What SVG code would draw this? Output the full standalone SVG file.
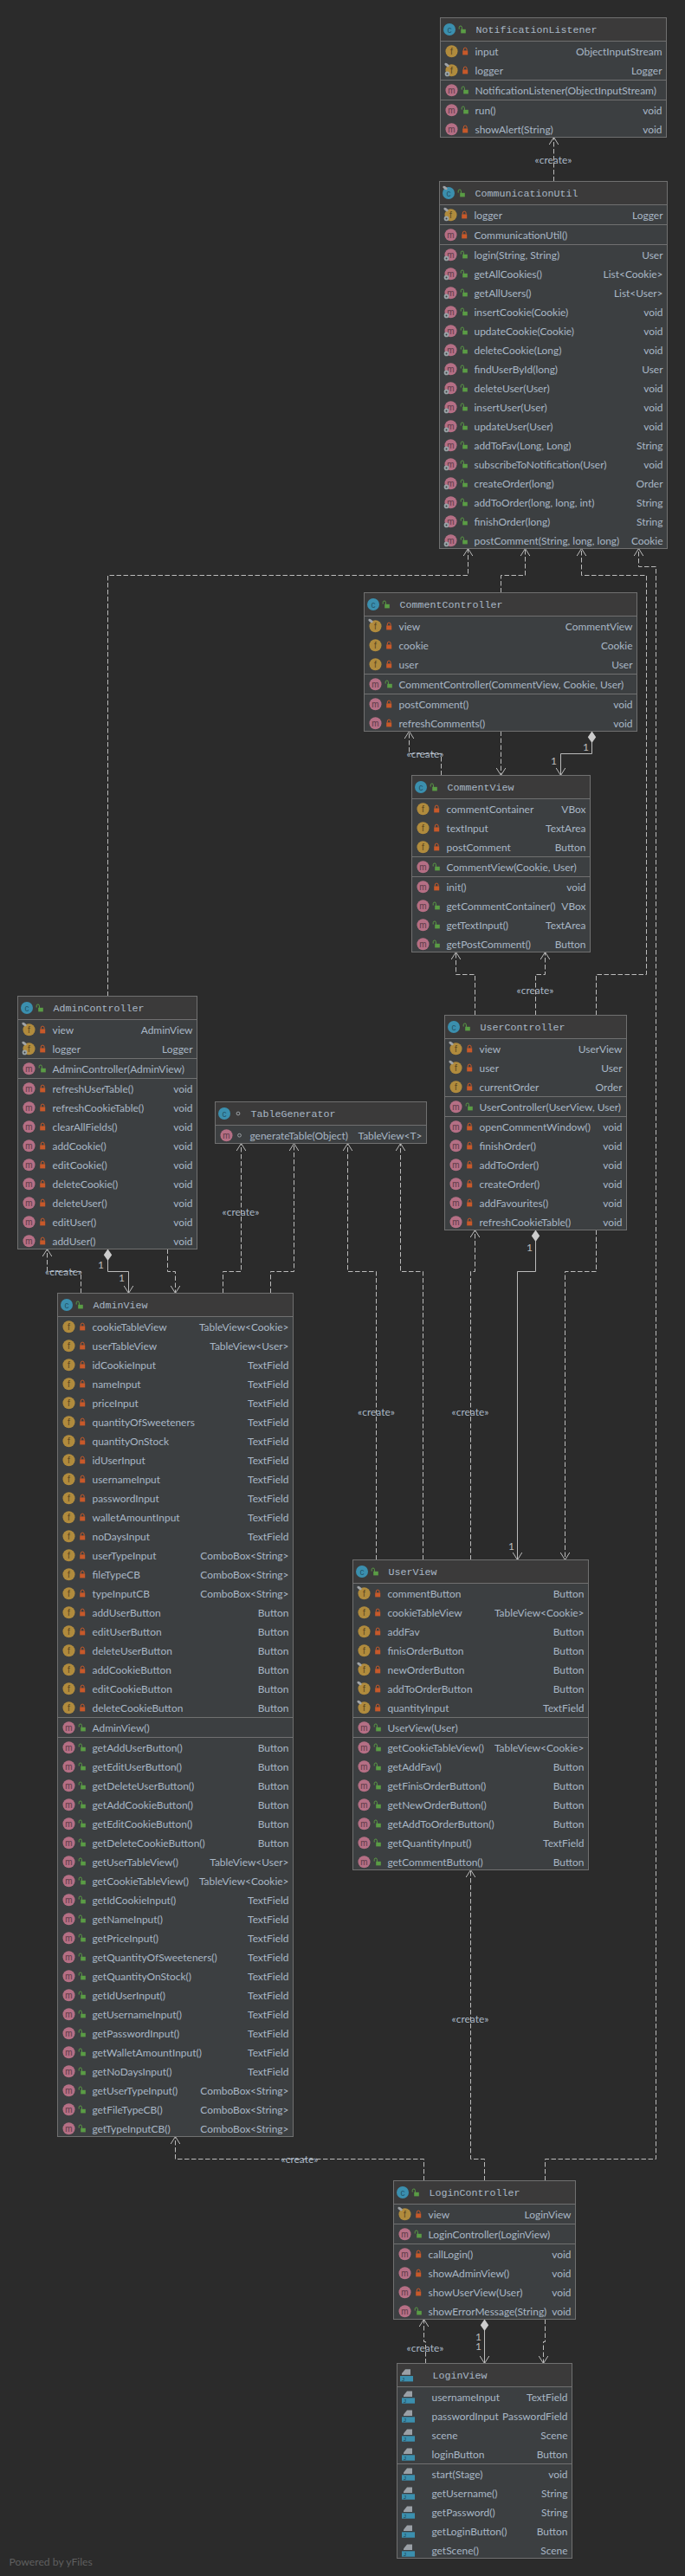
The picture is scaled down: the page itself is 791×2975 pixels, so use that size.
<svg xmlns="http://www.w3.org/2000/svg" width="791" height="2975" viewBox="0 0 791 2975">
<style>
text{font-family:"Lato","Noto Sans","Liberation Sans",sans-serif;font-size:11.95px;fill:#a9b7c6}
.t{text-anchor:end}
.ti{font-family:"Liberation Mono",monospace;font-size:11.67px}
.ic{font-family:"Liberation Sans",sans-serif;font-size:10px;text-anchor:middle}
.lb{text-anchor:middle}
.mult{font-size:12px;fill:#bbbbbb}
.box{fill:#3c3f41;stroke:#707070}
.hd{fill:#3b3a3a}
.sep{fill:none;stroke:#707070}
.d,.s{fill:none;stroke:#bbbbbb}
.d{stroke-dasharray:5.5 2.5}
</style>
<defs>
<marker id="open" markerUnits="userSpaceOnUse" markerWidth="14" markerHeight="14" refX="10" refY="7" orient="auto"><path d="M1.5,1.7 L10,7 L1.5,12.3" fill="none" stroke="#bbbbbb"/></marker>
<marker id="dia" markerUnits="userSpaceOnUse" markerWidth="15" markerHeight="11" refX="0" refY="5.5" orient="auto"><path d="M0,5.5 L6.7,0.8 L13.4,5.5 L6.7,10.2 Z" fill="#cccccc"/></marker>
<g id="c"><circle cx="10.5" cy="13.5" r="7" fill="#3b8fae"/><text x="10.5" y="17" class="ic" style="fill:#235468">c</text></g>
<g id="f"><circle cx="13" cy="-4.8" r="7" fill="#b08b3d"/><text x="13" y="-1.2" class="ic" style="fill:#5b4720">f</text></g>
<g id="m"><circle cx="13" cy="-4.8" r="7" fill="#b56f85"/><text x="13" y="-1.2" class="ic" style="fill:#5d3b47">m</text></g>
<g id="pr"><rect x="25.7" y="-5.6" width="6" height="5" fill="#c7592a"/><path d="M26.8,-5.5 V-7 a1.9,1.9 0 0 1 3.8,0 V-5.5" fill="none" stroke="#c7592a"/></g>
<g id="pu"><rect x="26.7" y="-5.2" width="5.6" height="4.6" fill="#5a9c45"/><path d="M24.7,-5.5 V-7.4 a1.6,1.6 0 0 1 3.2,0 V-5" fill="none" stroke="#5a9c45"/></g>
<circle id="pk" cx="28" cy="-4.8" r="1.9" fill="none" stroke="#9a9fa3"/>
<g id="st"><circle cx="8" cy="-0.6" r="2.8" fill="#9aa4a8"/><circle cx="8" cy="-0.6" r="1" fill="#3c3f41"/></g>
<ellipse id="fi" cx="7.5" cy="-11" rx="3" ry="1.6" transform="rotate(35 7.5 -11)" fill="#a0a4a8"/>
<g id="j"><path d="M7.5,-5 V-6.6 L11.5,-11.5 H17.5 V-5 Z" fill="#9aa0a6"/><rect x="5.5" y="-3.7" width="15" height="6.4" fill="#3b8fae"/><text x="9" y="1.8" class="ic" style="font-size:6px;fill:#1d3f4d">J</text></g>
</defs>
<rect width="791" height="2975" fill="#2b2b2b"/>
<g id="connectors">
<path class="d" marker-end="url(#open)" d="M639.5,209.5 V158.5"/>
<path class="d" marker-end="url(#open)" d="M124.5,1150.5 V664.5 H540.5 V633.5"/>
<path class="d" marker-end="url(#open)" d="M578.5,684.5 V664.5 H606.5 V633.5"/>
<path class="d" marker-end="url(#open)" d="M688.5,1172.5 V1125.5 H746.5 V664.5 H671.5 V633.5"/>
<path class="d" marker-end="url(#open)" d="M629.5,2518.5 V2493.5 H757.5 V654.5 H737.5 V633.5"/>
<path class="d" marker-end="url(#open)" d="M509.5,895.5 V870.5 H472.5 V844.5"/>
<path class="d" marker-end="url(#open)" d="M578.5,844.5 V895.5"/>
<path class="s" marker-start="url(#dia)" marker-end="url(#open)" d="M683.5,844.5 V870.5 H647.5 V895.5"/>
<path class="d" marker-end="url(#open)" d="M548.5,1172.5 V1125.5 H526.5 V1099.5"/>
<path class="d" marker-end="url(#open)" d="M618.5,1172.5 V1125.5 H629.5 V1099.5"/>
<path class="d" marker-end="url(#open)" d="M93.5,1493.5 V1468.5 H54.5 V1442.5"/>
<path class="s" marker-start="url(#dia)" marker-end="url(#open)" d="M124.5,1442.5 V1468.5 H148.5 V1493.5"/>
<path class="d" marker-end="url(#open)" d="M193.5,1442.5 V1468.5 H202.5 V1493.5"/>
<path class="d" marker-end="url(#open)" d="M257.5,1493.5 V1468.5 H278.5 V1320.5"/>
<path class="d" marker-end="url(#open)" d="M312.5,1493.5 V1468.5 H339.5 V1320.5"/>
<path class="d" marker-end="url(#open)" d="M434.5,1801.5 V1468.5 H401.5 V1320.5"/>
<path class="d" marker-end="url(#open)" d="M488.5,1801.5 V1468.5 H462.5 V1320.5"/>
<path class="d" marker-end="url(#open)" d="M543.5,1801.5 V1468.5 H548.5 V1420.5"/>
<path class="s" marker-start="url(#dia)" marker-end="url(#open)" d="M618.5,1420.5 V1468.5 H597.5 V1801.5"/>
<path class="d" marker-end="url(#open)" d="M688.5,1420.5 V1468.5 H652.5 V1801.5"/>
<path class="d" marker-end="url(#open)" d="M489.5,2518.5 V2493.5 H202.5 V2467.5"/>
<path class="d" marker-end="url(#open)" d="M559.5,2518.5 V2493.5 H543.5 V2159.5"/>
<path class="d" marker-end="url(#open)" d="M491.5,2729.5 V2704.5 H489.5 V2678.5"/>
<path class="s" marker-start="url(#dia)" marker-end="url(#open)" d="M559.5,2678.5 V2729.5"/>
<path class="d" marker-end="url(#open)" d="M629.5,2678.5 V2704.5 H627.5 V2729.5"/>
<text class="lb" x="639" y="189">«create»</text>
<text class="lb" x="491" y="875">«create»</text>
<text class="lb" x="618" y="1148">«create»</text>
<text class="lb" x="278" y="1404">«create»</text>
<text class="lb" x="73.5" y="1473">«create»</text>
<text class="lb" x="434.5" y="1635">«create»</text>
<text class="lb" x="543" y="1635">«create»</text>
<text class="lb" x="346" y="2498">«create»</text>
<text class="lb" x="543" y="2336">«create»</text>
<text class="lb" x="491" y="2716">«create»</text>
<text class="mult" x="673" y="867">1</text>
<text class="mult" x="636" y="883">1</text>
<text class="mult" x="113" y="1465">1</text>
<text class="mult" x="137" y="1480">1</text>
<text class="mult" x="608" y="1445">1</text>
<text class="mult" x="587" y="1790">1</text>
<text class="mult" x="549" y="2703">1</text>
<text class="mult" x="549" y="2714">1</text>
</g>
<g id="NotificationListener" transform="translate(508.5,20.5)">
<rect class="box" width="261" height="138"/><rect class="hd" x=".5" y=".5" width="260" height="26.5"/><path class="sep" d="M0,27H261M0,72H261M0,95H261"/>
<use href="#c"/><use href="#pu" x="-3" y="18.5"/><text class="ti" x="41" y="17.5">NotificationListener</text>
<g transform="translate(0,43.5)">
<use href="#f"/><use href="#pr"/><text x="40">input</text><text class="t" x="256">ObjectInputStream</text>
<use href="#f" y="22"/><use href="#fi" y="22"/><use href="#st" y="22"/><use href="#pr" y="22"/><text x="40" y="22">logger</text><text class="t" x="256" y="22">Logger</text>
</g>
<g transform="translate(0,88.5)"><use href="#m"/><use href="#pu"/><text x="40">NotificationListener(ObjectInputStream)</text></g>
<g transform="translate(0,111.5)">
<use href="#m"/><use href="#pu"/><text x="40">run()</text><text class="t" x="256">void</text>
<use href="#m" y="22"/><use href="#pr" y="22"/><text x="40" y="22">showAlert(String)</text><text class="t" x="256" y="22">void</text>
</g>
</g>
<g id="CommunicationUtil" transform="translate(507.5,209.5)">
<rect class="box" width="263" height="424"/><rect class="hd" x=".5" y=".5" width="262" height="26.5"/><path class="sep" d="M0,27H263M0,50H263M0,73H263"/>
<use href="#c"/><use href="#fi" x="-1" y="18.5"/><use href="#pu" x="-3" y="18.5"/><text class="ti" x="41" y="17.5">CommunicationUtil</text>
<g transform="translate(0,43.5)"><use href="#f"/><use href="#fi"/><use href="#st"/><use href="#pr"/><text x="40">logger</text><text class="t" x="258">Logger</text></g>
<g transform="translate(0,66.5)"><use href="#m"/><use href="#pr"/><text x="40">CommunicationUtil()</text></g>
<g transform="translate(0,89.5)">
<use href="#m"/><use href="#st"/><use href="#pu"/><text x="40">login(String, String)</text><text class="t" x="258">User</text>
<use href="#m" y="22"/><use href="#st" y="22"/><use href="#pu" y="22"/><text x="40" y="22">getAllCookies()</text><text class="t" x="258" y="22">List&lt;Cookie&gt;</text>
<use href="#m" y="44"/><use href="#st" y="44"/><use href="#pu" y="44"/><text x="40" y="44">getAllUsers()</text><text class="t" x="258" y="44">List&lt;User&gt;</text>
<use href="#m" y="66"/><use href="#st" y="66"/><use href="#pu" y="66"/><text x="40" y="66">insertCookie(Cookie)</text><text class="t" x="258" y="66">void</text>
<use href="#m" y="88"/><use href="#st" y="88"/><use href="#pu" y="88"/><text x="40" y="88">updateCookie(Cookie)</text><text class="t" x="258" y="88">void</text>
<use href="#m" y="110"/><use href="#st" y="110"/><use href="#pu" y="110"/><text x="40" y="110">deleteCookie(Long)</text><text class="t" x="258" y="110">void</text>
<use href="#m" y="132"/><use href="#st" y="132"/><use href="#pu" y="132"/><text x="40" y="132">findUserById(long)</text><text class="t" x="258" y="132">User</text>
<use href="#m" y="154"/><use href="#st" y="154"/><use href="#pu" y="154"/><text x="40" y="154">deleteUser(User)</text><text class="t" x="258" y="154">void</text>
<use href="#m" y="176"/><use href="#st" y="176"/><use href="#pu" y="176"/><text x="40" y="176">insertUser(User)</text><text class="t" x="258" y="176">void</text>
<use href="#m" y="198"/><use href="#st" y="198"/><use href="#pu" y="198"/><text x="40" y="198">updateUser(User)</text><text class="t" x="258" y="198">void</text>
<use href="#m" y="220"/><use href="#st" y="220"/><use href="#pu" y="220"/><text x="40" y="220">addToFav(Long, Long)</text><text class="t" x="258" y="220">String</text>
<use href="#m" y="242"/><use href="#st" y="242"/><use href="#pu" y="242"/><text x="40" y="242">subscribeToNotification(User)</text><text class="t" x="258" y="242">void</text>
<use href="#m" y="264"/><use href="#st" y="264"/><use href="#pu" y="264"/><text x="40" y="264">createOrder(long)</text><text class="t" x="258" y="264">Order</text>
<use href="#m" y="286"/><use href="#st" y="286"/><use href="#pu" y="286"/><text x="40" y="286">addToOrder(long, long, int)</text><text class="t" x="258" y="286">String</text>
<use href="#m" y="308"/><use href="#st" y="308"/><use href="#pu" y="308"/><text x="40" y="308">finishOrder(long)</text><text class="t" x="258" y="308">String</text>
<use href="#m" y="330"/><use href="#st" y="330"/><use href="#pu" y="330"/><text x="40" y="330">postComment(String, long, long)</text><text class="t" x="258" y="330">Cookie</text>
</g>
</g>
<g id="CommentController" transform="translate(420.5,684.5)">
<rect class="box" width="315" height="160"/><rect class="hd" x=".5" y=".5" width="314" height="26.5"/><path class="sep" d="M0,27H315M0,94H315M0,117H315"/>
<use href="#c"/><use href="#pu" x="-3" y="18.5"/><text class="ti" x="41" y="17.5">CommentController</text>
<g transform="translate(0,43.5)">
<use href="#f"/><use href="#fi"/><use href="#pr"/><text x="40">view</text><text class="t" x="310">CommentView</text>
<use href="#f" y="22"/><use href="#pr" y="22"/><text x="40" y="22">cookie</text><text class="t" x="310" y="22">Cookie</text>
<use href="#f" y="44"/><use href="#pr" y="44"/><text x="40" y="44">user</text><text class="t" x="310" y="44">User</text>
</g>
<g transform="translate(0,110.5)"><use href="#m"/><use href="#pu"/><text x="40">CommentController(CommentView, Cookie, User)</text></g>
<g transform="translate(0,133.5)">
<use href="#m"/><use href="#pr"/><text x="40">postComment()</text><text class="t" x="310">void</text>
<use href="#m" y="22"/><use href="#pr" y="22"/><text x="40" y="22">refreshComments()</text><text class="t" x="310" y="22">void</text>
</g>
</g>
<g id="CommentView" transform="translate(475.5,895.5)">
<rect class="box" width="206" height="204"/><rect class="hd" x=".5" y=".5" width="205" height="26.5"/><path class="sep" d="M0,27H206M0,94H206M0,117H206"/>
<use href="#c"/><use href="#pu" x="-3" y="18.5"/><text class="ti" x="41" y="17.5">CommentView</text>
<g transform="translate(0,43.5)">
<use href="#f"/><use href="#pr"/><text x="40">commentContainer</text><text class="t" x="201">VBox</text>
<use href="#f" y="22"/><use href="#pr" y="22"/><text x="40" y="22">textInput</text><text class="t" x="201" y="22">TextArea</text>
<use href="#f" y="44"/><use href="#pr" y="44"/><text x="40" y="44">postComment</text><text class="t" x="201" y="44">Button</text>
</g>
<g transform="translate(0,110.5)"><use href="#m"/><use href="#pu"/><text x="40">CommentView(Cookie, User)</text></g>
<g transform="translate(0,133.5)">
<use href="#m"/><use href="#pr"/><text x="40">init()</text><text class="t" x="201">void</text>
<use href="#m" y="22"/><use href="#pu" y="22"/><text x="40" y="22">getCommentContainer()</text><text class="t" x="201" y="22">VBox</text>
<use href="#m" y="44"/><use href="#pu" y="44"/><text x="40" y="44">getTextInput()</text><text class="t" x="201" y="44">TextArea</text>
<use href="#m" y="66"/><use href="#pu" y="66"/><text x="40" y="66">getPostComment()</text><text class="t" x="201" y="66">Button</text>
</g>
</g>
<g id="AdminController" transform="translate(20.5,1150.5)">
<rect class="box" width="207" height="292"/><rect class="hd" x=".5" y=".5" width="206" height="26.5"/><path class="sep" d="M0,27H207M0,72H207M0,95H207"/>
<use href="#c"/><use href="#pu" x="-3" y="18.5"/><text class="ti" x="41" y="17.5">AdminController</text>
<g transform="translate(0,43.5)">
<use href="#f"/><use href="#fi"/><use href="#pr"/><text x="40">view</text><text class="t" x="202">AdminView</text>
<use href="#f" y="22"/><use href="#fi" y="22"/><use href="#st" y="22"/><use href="#pr" y="22"/><text x="40" y="22">logger</text><text class="t" x="202" y="22">Logger</text>
</g>
<g transform="translate(0,88.5)"><use href="#m"/><use href="#pu"/><text x="40">AdminController(AdminView)</text></g>
<g transform="translate(0,111.5)">
<use href="#m"/><use href="#pr"/><text x="40">refreshUserTable()</text><text class="t" x="202">void</text>
<use href="#m" y="22"/><use href="#pr" y="22"/><text x="40" y="22">refreshCookieTable()</text><text class="t" x="202" y="22">void</text>
<use href="#m" y="44"/><use href="#pr" y="44"/><text x="40" y="44">clearAllFields()</text><text class="t" x="202" y="44">void</text>
<use href="#m" y="66"/><use href="#pr" y="66"/><text x="40" y="66">addCookie()</text><text class="t" x="202" y="66">void</text>
<use href="#m" y="88"/><use href="#pr" y="88"/><text x="40" y="88">editCookie()</text><text class="t" x="202" y="88">void</text>
<use href="#m" y="110"/><use href="#pr" y="110"/><text x="40" y="110">deleteCookie()</text><text class="t" x="202" y="110">void</text>
<use href="#m" y="132"/><use href="#pr" y="132"/><text x="40" y="132">deleteUser()</text><text class="t" x="202" y="132">void</text>
<use href="#m" y="154"/><use href="#pr" y="154"/><text x="40" y="154">editUser()</text><text class="t" x="202" y="154">void</text>
<use href="#m" y="176"/><use href="#pr" y="176"/><text x="40" y="176">addUser()</text><text class="t" x="202" y="176">void</text>
</g>
</g>
<g id="TableGenerator" transform="translate(248.5,1272.5)">
<rect class="box" width="244" height="48"/><rect class="hd" x=".5" y=".5" width="243" height="26.5"/><path class="sep" d="M0,27H244"/>
<use href="#c"/><use href="#pk" x="-1.5" y="18.3"/><text class="ti" x="41" y="17.5">TableGenerator</text>
<g transform="translate(0,43.5)"><use href="#m"/><use href="#pk"/><text x="40">generateTable(Object)</text><text class="t" x="239">TableView&lt;T&gt;</text></g>
</g>
<g id="UserController" transform="translate(513.5,1172.5)">
<rect class="box" width="210" height="248"/><rect class="hd" x=".5" y=".5" width="209" height="26.5"/><path class="sep" d="M0,27H210M0,94H210M0,117H210"/>
<use href="#c"/><use href="#pu" x="-3" y="18.5"/><text class="ti" x="41" y="17.5">UserController</text>
<g transform="translate(0,43.5)">
<use href="#f"/><use href="#fi"/><use href="#pr"/><text x="40">view</text><text class="t" x="205">UserView</text>
<use href="#f" y="22"/><use href="#fi" y="22"/><use href="#pr" y="22"/><text x="40" y="22">user</text><text class="t" x="205" y="22">User</text>
<use href="#f" y="44"/><use href="#pr" y="44"/><text x="40" y="44">currentOrder</text><text class="t" x="205" y="44">Order</text>
</g>
<g transform="translate(0,110.5)"><use href="#m"/><use href="#pu"/><text x="40">UserController(UserView, User)</text></g>
<g transform="translate(0,133.5)">
<use href="#m"/><use href="#pr"/><text x="40">openCommentWindow()</text><text class="t" x="205">void</text>
<use href="#m" y="22"/><use href="#pr" y="22"/><text x="40" y="22">finishOrder()</text><text class="t" x="205" y="22">void</text>
<use href="#m" y="44"/><use href="#pr" y="44"/><text x="40" y="44">addToOrder()</text><text class="t" x="205" y="44">void</text>
<use href="#m" y="66"/><use href="#pr" y="66"/><text x="40" y="66">createOrder()</text><text class="t" x="205" y="66">void</text>
<use href="#m" y="88"/><use href="#pr" y="88"/><text x="40" y="88">addFavourites()</text><text class="t" x="205" y="88">void</text>
<use href="#m" y="110"/><use href="#pr" y="110"/><text x="40" y="110">refreshCookieTable()</text><text class="t" x="205" y="110">void</text>
</g>
</g>
<g id="AdminView" transform="translate(66.5,1493.5)">
<rect class="box" width="272" height="974"/><rect class="hd" x=".5" y=".5" width="271" height="26.5"/><path class="sep" d="M0,27H272M0,490H272M0,513H272"/>
<use href="#c"/><use href="#pu" x="-3" y="18.5"/><text class="ti" x="41" y="17.5">AdminView</text>
<g transform="translate(0,43.5)">
<use href="#f"/><use href="#pr"/><text x="40">cookieTableView</text><text class="t" x="267">TableView&lt;Cookie&gt;</text>
<use href="#f" y="22"/><use href="#pr" y="22"/><text x="40" y="22">userTableView</text><text class="t" x="267" y="22">TableView&lt;User&gt;</text>
<use href="#f" y="44"/><use href="#pr" y="44"/><text x="40" y="44">idCookieInput</text><text class="t" x="267" y="44">TextField</text>
<use href="#f" y="66"/><use href="#pr" y="66"/><text x="40" y="66">nameInput</text><text class="t" x="267" y="66">TextField</text>
<use href="#f" y="88"/><use href="#pr" y="88"/><text x="40" y="88">priceInput</text><text class="t" x="267" y="88">TextField</text>
<use href="#f" y="110"/><use href="#pr" y="110"/><text x="40" y="110">quantityOfSweeteners</text><text class="t" x="267" y="110">TextField</text>
<use href="#f" y="132"/><use href="#pr" y="132"/><text x="40" y="132">quantityOnStock</text><text class="t" x="267" y="132">TextField</text>
<use href="#f" y="154"/><use href="#pr" y="154"/><text x="40" y="154">idUserInput</text><text class="t" x="267" y="154">TextField</text>
<use href="#f" y="176"/><use href="#pr" y="176"/><text x="40" y="176">usernameInput</text><text class="t" x="267" y="176">TextField</text>
<use href="#f" y="198"/><use href="#pr" y="198"/><text x="40" y="198">passwordInput</text><text class="t" x="267" y="198">TextField</text>
<use href="#f" y="220"/><use href="#pr" y="220"/><text x="40" y="220">walletAmountInput</text><text class="t" x="267" y="220">TextField</text>
<use href="#f" y="242"/><use href="#pr" y="242"/><text x="40" y="242">noDaysInput</text><text class="t" x="267" y="242">TextField</text>
<use href="#f" y="264"/><use href="#pr" y="264"/><text x="40" y="264">userTypeInput</text><text class="t" x="267" y="264">ComboBox&lt;String&gt;</text>
<use href="#f" y="286"/><use href="#pr" y="286"/><text x="40" y="286">fileTypeCB</text><text class="t" x="267" y="286">ComboBox&lt;String&gt;</text>
<use href="#f" y="308"/><use href="#pr" y="308"/><text x="40" y="308">typeInputCB</text><text class="t" x="267" y="308">ComboBox&lt;String&gt;</text>
<use href="#f" y="330"/><use href="#pr" y="330"/><text x="40" y="330">addUserButton</text><text class="t" x="267" y="330">Button</text>
<use href="#f" y="352"/><use href="#pr" y="352"/><text x="40" y="352">editUserButton</text><text class="t" x="267" y="352">Button</text>
<use href="#f" y="374"/><use href="#pr" y="374"/><text x="40" y="374">deleteUserButton</text><text class="t" x="267" y="374">Button</text>
<use href="#f" y="396"/><use href="#pr" y="396"/><text x="40" y="396">addCookieButton</text><text class="t" x="267" y="396">Button</text>
<use href="#f" y="418"/><use href="#pr" y="418"/><text x="40" y="418">editCookieButton</text><text class="t" x="267" y="418">Button</text>
<use href="#f" y="440"/><use href="#pr" y="440"/><text x="40" y="440">deleteCookieButton</text><text class="t" x="267" y="440">Button</text>
</g>
<g transform="translate(0,506.5)"><use href="#m"/><use href="#pu"/><text x="40">AdminView()</text></g>
<g transform="translate(0,529.5)">
<use href="#m"/><use href="#pu"/><text x="40">getAddUserButton()</text><text class="t" x="267">Button</text>
<use href="#m" y="22"/><use href="#pu" y="22"/><text x="40" y="22">getEditUserButton()</text><text class="t" x="267" y="22">Button</text>
<use href="#m" y="44"/><use href="#pu" y="44"/><text x="40" y="44">getDeleteUserButton()</text><text class="t" x="267" y="44">Button</text>
<use href="#m" y="66"/><use href="#pu" y="66"/><text x="40" y="66">getAddCookieButton()</text><text class="t" x="267" y="66">Button</text>
<use href="#m" y="88"/><use href="#pu" y="88"/><text x="40" y="88">getEditCookieButton()</text><text class="t" x="267" y="88">Button</text>
<use href="#m" y="110"/><use href="#pu" y="110"/><text x="40" y="110">getDeleteCookieButton()</text><text class="t" x="267" y="110">Button</text>
<use href="#m" y="132"/><use href="#pu" y="132"/><text x="40" y="132">getUserTableView()</text><text class="t" x="267" y="132">TableView&lt;User&gt;</text>
<use href="#m" y="154"/><use href="#pu" y="154"/><text x="40" y="154">getCookieTableView()</text><text class="t" x="267" y="154">TableView&lt;Cookie&gt;</text>
<use href="#m" y="176"/><use href="#pu" y="176"/><text x="40" y="176">getIdCookieInput()</text><text class="t" x="267" y="176">TextField</text>
<use href="#m" y="198"/><use href="#pu" y="198"/><text x="40" y="198">getNameInput()</text><text class="t" x="267" y="198">TextField</text>
<use href="#m" y="220"/><use href="#pu" y="220"/><text x="40" y="220">getPriceInput()</text><text class="t" x="267" y="220">TextField</text>
<use href="#m" y="242"/><use href="#pu" y="242"/><text x="40" y="242">getQuantityOfSweeteners()</text><text class="t" x="267" y="242">TextField</text>
<use href="#m" y="264"/><use href="#pu" y="264"/><text x="40" y="264">getQuantityOnStock()</text><text class="t" x="267" y="264">TextField</text>
<use href="#m" y="286"/><use href="#pu" y="286"/><text x="40" y="286">getIdUserInput()</text><text class="t" x="267" y="286">TextField</text>
<use href="#m" y="308"/><use href="#pu" y="308"/><text x="40" y="308">getUsernameInput()</text><text class="t" x="267" y="308">TextField</text>
<use href="#m" y="330"/><use href="#pu" y="330"/><text x="40" y="330">getPasswordInput()</text><text class="t" x="267" y="330">TextField</text>
<use href="#m" y="352"/><use href="#pu" y="352"/><text x="40" y="352">getWalletAmountInput()</text><text class="t" x="267" y="352">TextField</text>
<use href="#m" y="374"/><use href="#pu" y="374"/><text x="40" y="374">getNoDaysInput()</text><text class="t" x="267" y="374">TextField</text>
<use href="#m" y="396"/><use href="#pu" y="396"/><text x="40" y="396">getUserTypeInput()</text><text class="t" x="267" y="396">ComboBox&lt;String&gt;</text>
<use href="#m" y="418"/><use href="#pu" y="418"/><text x="40" y="418">getFileTypeCB()</text><text class="t" x="267" y="418">ComboBox&lt;String&gt;</text>
<use href="#m" y="440"/><use href="#pu" y="440"/><text x="40" y="440">getTypeInputCB()</text><text class="t" x="267" y="440">ComboBox&lt;String&gt;</text>
</g>
</g>
<g id="UserView" transform="translate(407.5,1801.5)">
<rect class="box" width="272" height="358"/><rect class="hd" x=".5" y=".5" width="271" height="26.5"/><path class="sep" d="M0,27H272M0,182H272M0,205H272"/>
<use href="#c"/><use href="#pu" x="-3" y="18.5"/><text class="ti" x="41" y="17.5">UserView</text>
<g transform="translate(0,43.5)">
<use href="#f"/><use href="#fi"/><use href="#pr"/><text x="40">commentButton</text><text class="t" x="267">Button</text>
<use href="#f" y="22"/><use href="#pr" y="22"/><text x="40" y="22">cookieTableView</text><text class="t" x="267" y="22">TableView&lt;Cookie&gt;</text>
<use href="#f" y="44"/><use href="#pr" y="44"/><text x="40" y="44">addFav</text><text class="t" x="267" y="44">Button</text>
<use href="#f" y="66"/><use href="#pr" y="66"/><text x="40" y="66">finisOrderButton</text><text class="t" x="267" y="66">Button</text>
<use href="#f" y="88"/><use href="#fi" y="88"/><use href="#pr" y="88"/><text x="40" y="88">newOrderButton</text><text class="t" x="267" y="88">Button</text>
<use href="#f" y="110"/><use href="#fi" y="110"/><use href="#pr" y="110"/><text x="40" y="110">addToOrderButton</text><text class="t" x="267" y="110">Button</text>
<use href="#f" y="132"/><use href="#fi" y="132"/><use href="#pr" y="132"/><text x="40" y="132">quantityInput</text><text class="t" x="267" y="132">TextField</text>
</g>
<g transform="translate(0,198.5)"><use href="#m"/><use href="#pu"/><text x="40">UserView(User)</text></g>
<g transform="translate(0,221.5)">
<use href="#m"/><use href="#pu"/><text x="40">getCookieTableView()</text><text class="t" x="267">TableView&lt;Cookie&gt;</text>
<use href="#m" y="22"/><use href="#pu" y="22"/><text x="40" y="22">getAddFav()</text><text class="t" x="267" y="22">Button</text>
<use href="#m" y="44"/><use href="#pu" y="44"/><text x="40" y="44">getFinisOrderButton()</text><text class="t" x="267" y="44">Button</text>
<use href="#m" y="66"/><use href="#pu" y="66"/><text x="40" y="66">getNewOrderButton()</text><text class="t" x="267" y="66">Button</text>
<use href="#m" y="88"/><use href="#pu" y="88"/><text x="40" y="88">getAddToOrderButton()</text><text class="t" x="267" y="88">Button</text>
<use href="#m" y="110"/><use href="#pu" y="110"/><text x="40" y="110">getQuantityInput()</text><text class="t" x="267" y="110">TextField</text>
<use href="#m" y="132"/><use href="#pu" y="132"/><text x="40" y="132">getCommentButton()</text><text class="t" x="267" y="132">Button</text>
</g>
</g>
<g id="LoginController" transform="translate(454.5,2518.5)">
<rect class="box" width="210" height="160"/><rect class="hd" x=".5" y=".5" width="209" height="26.5"/><path class="sep" d="M0,27H210M0,50H210M0,73H210"/>
<use href="#c"/><use href="#pu" x="-3" y="18.5"/><text class="ti" x="41" y="17.5">LoginController</text>
<g transform="translate(0,43.5)"><use href="#f"/><use href="#fi"/><use href="#pr"/><text x="40">view</text><text class="t" x="205">LoginView</text></g>
<g transform="translate(0,66.5)"><use href="#m"/><use href="#pu"/><text x="40">LoginController(LoginView)</text></g>
<g transform="translate(0,89.5)">
<use href="#m"/><use href="#pr"/><text x="40">callLogin()</text><text class="t" x="205">void</text>
<use href="#m" y="22"/><use href="#pr" y="22"/><text x="40" y="22">showAdminView()</text><text class="t" x="205" y="22">void</text>
<use href="#m" y="44"/><use href="#pr" y="44"/><text x="40" y="44">showUserView(User)</text><text class="t" x="205" y="44">void</text>
<use href="#m" y="66"/><use href="#pu" y="66"/><text x="40" y="66">showErrorMessage(String)</text><text class="t" x="205" y="66">void</text>
</g>
</g>
<g id="LoginView" transform="translate(458.5,2729.5)">
<rect class="box" width="202" height="225"/><rect class="hd" x=".5" y=".5" width="201" height="26.5"/><path class="sep" d="M0,27H202M0,116H202"/>
<use href="#j" x="-2" y="18.2"/><text class="ti" x="41" y="17.5">LoginView</text>
<g transform="translate(0,43.5)">
<use href="#j"/><text x="40">usernameInput</text><text class="t" x="197">TextField</text>
<use href="#j" y="22"/><text x="40" y="22">passwordInput</text><text class="t" x="197" y="22">PasswordField</text>
<use href="#j" y="44"/><text x="40" y="44">scene</text><text class="t" x="197" y="44">Scene</text>
<use href="#j" y="66"/><text x="40" y="66">loginButton</text><text class="t" x="197" y="66">Button</text>
</g>
<g transform="translate(0,132.5)">
<use href="#j"/><text x="40">start(Stage)</text><text class="t" x="197">void</text>
<use href="#j" y="22"/><text x="40" y="22">getUsername()</text><text class="t" x="197" y="22">String</text>
<use href="#j" y="44"/><text x="40" y="44">getPassword()</text><text class="t" x="197" y="44">String</text>
<use href="#j" y="66"/><text x="40" y="66">getLoginButton()</text><text class="t" x="197" y="66">Button</text>
<use href="#j" y="88"/><text x="40" y="88">getScene()</text><text class="t" x="197" y="88">Scene</text>
</g>
</g>
<text id="footer" x="10.5" y="2963" style="font-size:12.2px;fill:#5f5f5f">Powered by yFiles</text>
</svg>
